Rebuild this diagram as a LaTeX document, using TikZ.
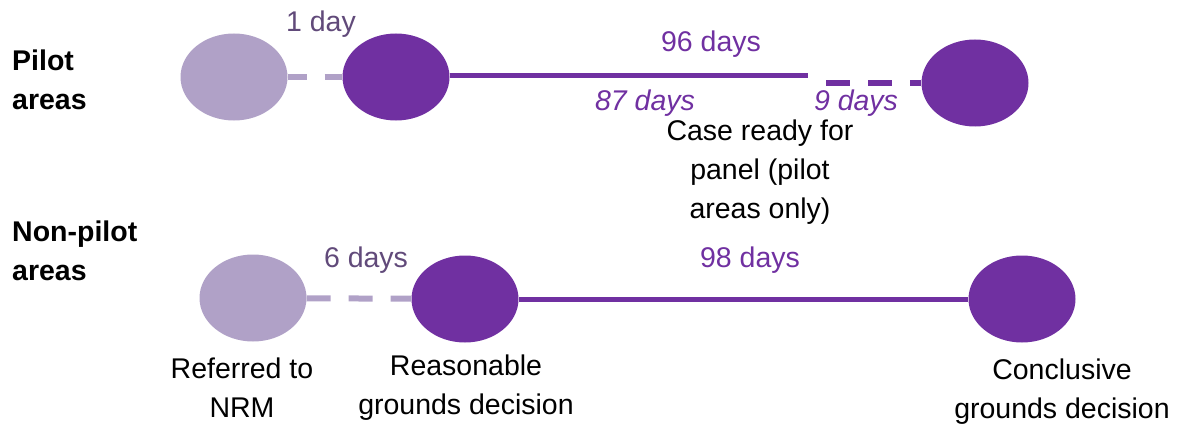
\documentclass[tikz,border=0pt]{standalone}
\usepackage{fontspec}
\setmainfont{Liberation Sans}
\usetikzlibrary{positioning}
\usetikzlibrary{shapes.geometric}
\definecolor{dpurple}{rgb}{0.44, 0.19, 0.63}
\definecolor{lpurple}{rgb}{0.69, 0.63, 0.78}
\definecolor{gpurple}{rgb}{0.38, 0.29, 0.48}
\tikzset{stage/.style = {ellipse, fill = dpurple, minimum width = 107, minimum height = 87, inner sep = 0}}
\tikzset{span/.style = {dpurple, line width = 5}}
\tikzset{wait/.style = {line width = 6, dash pattern = on 24 off 18}}
\tikzset{txt/.style = {align = center, inner sep = 0}}

\begin{document}
\begin{tikzpicture}[x = 1pt, y = -1pt, font = \fontsize{28.5}{39}\selectfont]
    \useasboundingbox (0, 0) rectangle (1181, 428);

    % pilot areas
    \node [txt, align = left, anchor = west, font = \fontsize{28.5}{39}\selectfont\bfseries] (pilot) at (12, 80) {Pilot\\areas};
    \node [stage, fill = lpurple] (pref) at (234, 77) {};
    \node [stage] (prgd) at (396, 77) {};
    \node [stage] (pcgd) at (975, 83) {};
    \coordinate (ready) at (808, 76);

    \draw [wait, lpurple, dash phase = 5] (pref) -- (prgd);
    \draw [span] (prgd.east |- ready) -- (ready);
    \draw [wait, dpurple, dash phase = 24] (ready |- pcgd) -- (pcgd);

    \node [txt, gpurple] (oneday) at (321, 24) {1 day};
    \node [txt, dpurple] (ptotal) at (711, 44) {96 days};
    \node [txt, dpurple, font = \fontsize{28.5}{39}\selectfont\itshape] (pfirst) at (645, 103) {87 days};
    \node [txt, dpurple, font = \fontsize{28.5}{39}\selectfont\itshape] (psecond) at (856, 103) {9 days};
    \node [txt] (readytxt) at (760, 172) {Case ready for\\panel (pilot\\areas only)};

    % non-pilot areas
    \node [txt, align = left, anchor = west, font = \fontsize{28.5}{39}\selectfont\bfseries] (nonpilot) at (12, 251) {Non-pilot\\areas};
    \node [stage, fill = lpurple] (nref) at (253, 298) {};
    \node [stage] (nrgd) at (465, 299) {};
    \node [stage] (ncgd) at (1022, 299) {};

    \draw [wait, lpurple] (nref) -- (nrgd);
    \draw [span] (nrgd) -- (ncgd);

    \node [txt, gpurple] (sixdays) at (366, 260) {6 days};
    \node [txt, dpurple] (ntotal) at (750, 260) {98 days};

    \node [txt] (reftxt) at (242, 388) {Referred to\\NRM};
    \node [txt] (rgdtxt) at (466, 388) {Reasonable\\grounds decision};
    \node [txt] (cgdtxt) at (1062, 392) {Conclusive\\grounds decision};
\end{tikzpicture}
\end{document}
